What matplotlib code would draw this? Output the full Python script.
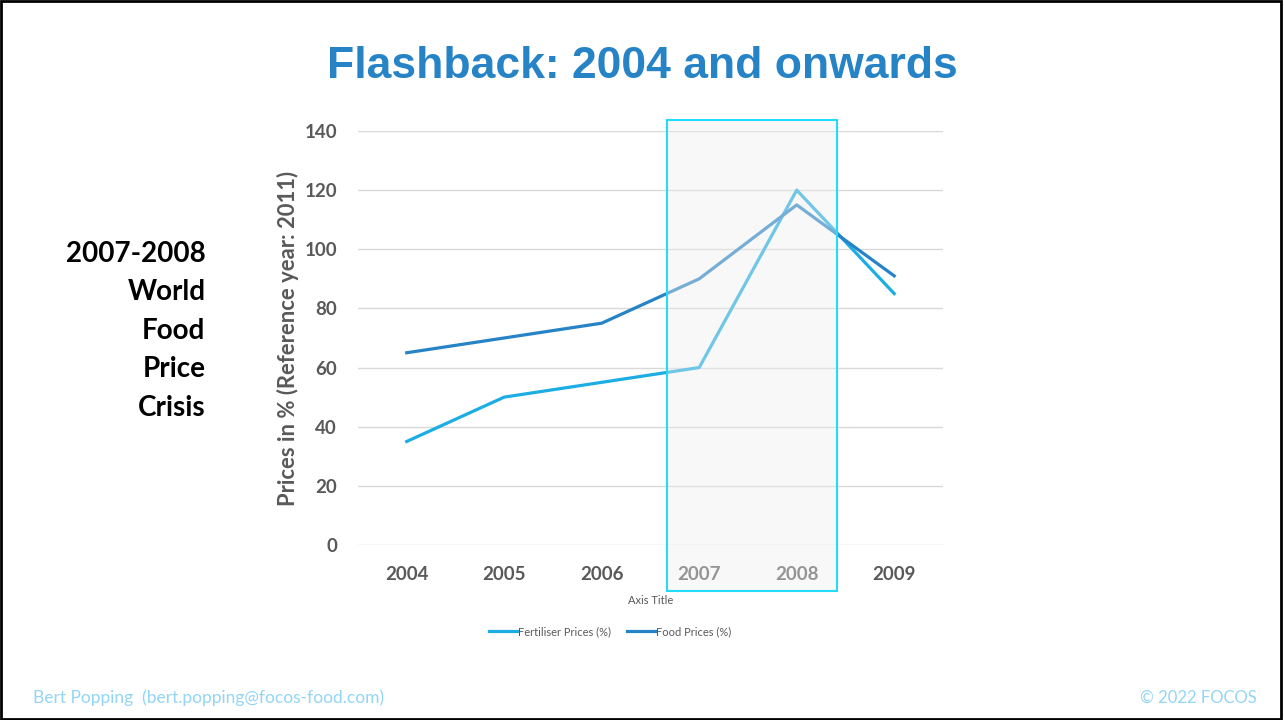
import matplotlib.pyplot as plt
from matplotlib.patches import Rectangle
from matplotlib.lines import Line2D

years = ['2004', '2005', '2006', '2007', '2008', '2009']
fertiliser = [35, 50, 55, 60, 120, 85]
food = [65, 70, 75, 90, 115, 91]

fert_color = '#1CADE4'
food_color = '#2683C6'
gray = '#595959'

fig = plt.figure(figsize=(12.84, 7.2), dpi=100)
ax = fig.add_axes([0.2788, 0.2431, 0.4556, 0.575])

x = range(len(years))
ax.plot(x, fertiliser, color=fert_color, lw=2.3, label='Fertiliser Prices (%)', zorder=3)
ax.plot(x, food, color=food_color, lw=2.3, label='Food Prices (%)', zorder=3)

ax.set_xlim(-0.5, 5.5)
ax.set_ylim(0, 140)
ax.set_yticks(range(0, 141, 20))
ax.set_xticks(list(x))
ax.set_xticklabels(years)
ax.grid(axis='y', color='#d9d9d9', lw=1)
ax.set_axisbelow(True)
for s in ax.spines.values():
    s.set_visible(False)
ax.tick_params(length=0, labelsize=13.5, labelcolor=gray, pad=15)
for lab in ax.get_xticklabels() + ax.get_yticklabels():
    lab.set_fontweight('bold')
    lab.set_family(['Lato', 'DejaVu Sans'])

ax.set_ylabel('Prices in % (Reference year: 2011)', fontsize=15.8, fontweight='bold',
              color=gray, family=['Lato', 'DejaVu Sans'], labelpad=4)
ax.set_xlabel('Axis Title', fontsize=8, color=gray, labelpad=9,
              family=['Lato', 'DejaVu Sans'])

handles = [Line2D([], [], color=fert_color, lw=2.3), Line2D([], [], color=food_color, lw=2.3)]
fig.legend(handles, ['Fertiliser Prices (%)', 'Food Prices (%)'], loc='center',
           bbox_to_anchor=(0.475, 0.123), ncol=2, frameon=False,
           handlelength=2.6, handletextpad=0.05, columnspacing=1.4,
           prop={'family': ['Lato', 'DejaVu Sans'], 'size': 8},
           labelcolor=gray)

# highlight box over 2007-2008
fig.patches.append(Rectangle((0.5195, 0.1792), 0.1324, 0.654, transform=fig.transFigure,
                             facecolor='#eeeeee', alpha=0.4, edgecolor='none', zorder=10))
fig.patches.append(Rectangle((0.5195, 0.1792), 0.1324, 0.654, transform=fig.transFigure,
                             facecolor='none', edgecolor='#22DDFA', lw=1.5, zorder=11))

fig.text(0.5, 0.907, 'Flashback: 2004 and onwards', ha='center', va='center',
         fontsize=32, fontweight='bold', color=food_color,
         family=['Liberation Sans', 'DejaVu Sans'])

side = ['2007-2008', 'World', 'Food', 'Price', 'Crisis']
for i, t in enumerate(side):
    fig.text(0.16, 1 - (254 + i * 38.5) / 720, t, ha='right', va='center',
             fontsize=20, fontweight='bold', color='black', family=['Lato', 'DejaVu Sans'])

fig.text(0.026, 0.031, 'Bert Popping  (bert.popping@focos-food.com)', ha='left', va='center',
         fontsize=12.5, color='#93D5F5', family=['Lato', 'DejaVu Sans'])
fig.text(0.979, 0.031, '\u00a9 2022 FOCOS', ha='right', va='center',
         fontsize=12, color='#93D5F5', family=['Lato', 'DejaVu Sans'])

fig.patches.append(Rectangle((0.001, 0.002), 0.997, 0.996, transform=fig.transFigure,
                             facecolor='none', edgecolor='black', lw=2, zorder=20))

fig.savefig('out.png', dpi=100)
